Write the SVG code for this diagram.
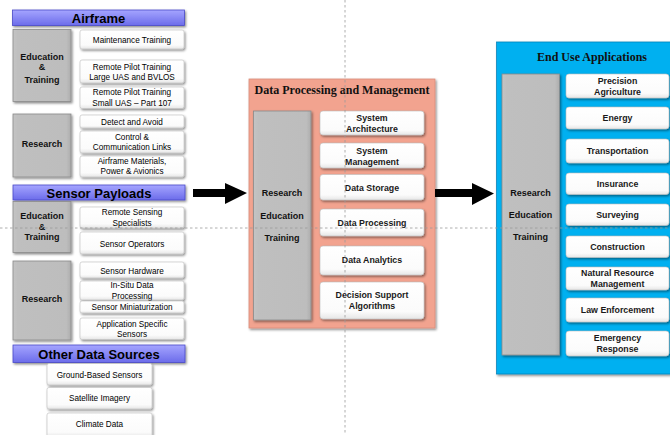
<svg xmlns="http://www.w3.org/2000/svg" width="670" height="435" viewBox="0 0 670 435">
<style>
.hdr{fill:url(#hg);stroke:#4a4ac8;stroke-width:0.8}
.hdt{font-family:"Liberation Sans",Arial,sans-serif;font-weight:bold;font-size:13px;fill:#000;text-anchor:middle}
.gray{fill:url(#gg);stroke:#8a8a8a;stroke-width:0.8}
.gt{font-family:"Liberation Sans",Arial,sans-serif;font-weight:bold;font-size:9px;fill:#111;text-anchor:middle}
.wb{fill:url(#wg);stroke:#bdbdbd;stroke-width:0.6}
.lt{font-family:"Liberation Sans",Arial,sans-serif;font-size:8.2px;fill:#000;text-anchor:middle}
.mt{font-family:"Liberation Sans",Arial,sans-serif;font-weight:bold;font-size:8.8px;fill:#1a1a1a;text-anchor:middle}
.ttl{font-family:"Liberation Serif","Times New Roman",serif;font-weight:bold;font-size:12px;fill:#111;text-anchor:middle}
.guide{stroke:#9a9a9a;stroke-width:0.8;stroke-dasharray:2.5 2.5;fill:none}
.sh{filter:url(#ds)}
</style>
<defs>
<linearGradient id="hg" x1="0" y1="0" x2="0" y2="1"><stop offset="0" stop-color="#a5a5ff"/><stop offset="1" stop-color="#6c6cea"/></linearGradient>
<linearGradient id="gg" x1="0" y1="0" x2="1" y2="0"><stop offset="0" stop-color="#c4c4c4"/><stop offset="0.08" stop-color="#bfbfbf"/><stop offset="0.92" stop-color="#bdbdbd"/><stop offset="1" stop-color="#adadad"/></linearGradient>
<linearGradient id="wg" x1="0" y1="0" x2="0" y2="1"><stop offset="0" stop-color="#ffffff"/><stop offset="0.8" stop-color="#fbfbfb"/><stop offset="1" stop-color="#e6e6e6"/></linearGradient>
<filter id="ds" x="-10%" y="-20%" width="130%" height="150%"><feDropShadow dx="1.2" dy="1.5" stdDeviation="0.9" flood-color="#000" flood-opacity="0.45"/></filter>
</defs>

<!-- Airframe -->
<g id="airframe">
<rect class="hdr sh" x="12.5" y="10" width="172" height="15.5"/>
<text class="hdt" x="98.5" y="23" font-size="15">Airframe</text>
</g>
<g id="af-edu">
<rect class="gray sh" x="13" y="29.5" width="58" height="72"/>
<text class="gt" x="42" y="60">Education</text>
<text class="gt" x="42" y="70">&amp;</text>
<text class="gt" x="42" y="83">Training</text>
</g>
<g id="af-maint"><rect class="wb sh" x="80" y="30" width="104" height="19" rx="2"/><text class="lt" x="132" y="42.8">Maintenance Training</text></g>
<g id="af-rpl"><rect class="wb sh" x="80" y="60" width="104" height="23" rx="2"/><text class="lt" x="132" y="69.8">Remote Pilot Training</text><text class="lt" x="132" y="80.3">Large UAS and BVLOS</text></g>
<g id="af-rps"><rect class="wb sh" x="80" y="87" width="104" height="21.5" rx="2"/><text class="lt" x="132" y="95">Remote Pilot Training</text><text class="lt" x="132" y="105.5">Small UAS – Part 107</text></g>
<g id="af-res">
<rect class="gray sh" x="13" y="114" width="58" height="63"/>
<text class="gt" x="42" y="147">Research</text>
</g>
<g id="af-daa"><rect class="wb sh" x="80" y="115" width="104" height="13" rx="2"/><text class="lt" x="132" y="124.8">Detect and Avoid</text></g>
<g id="af-ccl"><rect class="wb sh" x="80" y="131" width="104" height="22" rx="2"/><text class="lt" x="132" y="139.8">Control &amp;</text><text class="lt" x="132" y="150">Communication Links</text></g>
<g id="af-amp"><rect class="wb sh" x="80" y="156" width="104" height="21" rx="2"/><text class="lt" x="132" y="164">Airframe Materials,</text><text class="lt" x="132" y="174">Power &amp; Avionics</text></g>

<!-- Sensor Payloads -->
<g id="sensor-payloads">
<rect class="hdr sh" x="13" y="185" width="172" height="15"/>
<text class="hdt" x="99" y="197.5" font-size="14">Sensor Payloads</text>
</g>
<g id="sp-edu">
<rect class="gray sh" x="13" y="201.5" width="58" height="51"/>
<text class="gt" x="42" y="219">Education</text>
<text class="gt" x="42" y="230">&amp;</text>
<text class="gt" x="42" y="240">Training</text>
</g>
<g id="sp-rss"><rect class="wb sh" x="80" y="207" width="104" height="21" rx="2"/><text class="lt" x="132" y="215">Remote Sensing</text><text class="lt" x="132" y="226">Specialists</text></g>
<g id="sp-so"><rect class="wb sh" x="80" y="232" width="104" height="22" rx="2"/><text class="lt" x="132" y="246.8">Sensor Operators</text></g>
<g id="sp-res">
<rect class="gray sh" x="13" y="261" width="58" height="79"/>
<text class="gt" x="42" y="302">Research</text>
</g>
<g id="sp-hw"><rect class="wb sh" x="80" y="262" width="104" height="16" rx="2"/><text class="lt" x="132" y="273.8">Sensor Hardware</text></g>
<g id="sp-isdp"><rect class="wb sh" x="80" y="281" width="104" height="19" rx="2"/><text class="lt" x="132" y="288">In-Situ Data</text><text class="lt" x="132" y="299">Processing</text></g>
<g id="sp-min"><rect class="wb sh" x="80" y="301" width="104" height="12" rx="2"/><text class="lt" x="132" y="310">Sensor Miniaturization</text></g>
<g id="sp-app"><rect class="wb sh" x="80" y="318" width="104" height="21.5" rx="2"/><text class="lt" x="132" y="327">Application Specific</text><text class="lt" x="132" y="337">Sensors</text></g>

<!-- Other Data Sources -->
<g id="other-data-sources">
<rect class="hdr sh" x="13" y="345" width="172" height="17.5"/>
<text class="hdt" x="99" y="359" font-size="14">Other Data Sources</text>
</g>
<g id="ods-gbs"><rect class="wb sh" x="47" y="363.5" width="105" height="21.5" rx="2"/><text class="lt" x="99.5" y="377.8">Ground-Based Sensors</text></g>
<g id="ods-sat"><rect class="wb sh" x="47" y="387.5" width="105" height="21.5" rx="2"/><text class="lt" x="99.5" y="401">Satellite Imagery</text></g>
<g id="ods-cd"><rect class="wb sh" x="47" y="413" width="105" height="24" rx="2"/><text class="lt" x="99.5" y="427">Climate Data</text></g>

<!-- Data Processing and Management -->
<g id="data-processing">
<rect class="sh" x="249" y="79" width="186" height="249" fill="#f2a38f" stroke="#d98d7b" stroke-width="0.8"/>
<text class="ttl" x="342" y="94">Data Processing and Management</text>
</g>
<g id="dp-ret">
<rect class="gray sh" x="253.5" y="111" width="57.5" height="209"/>
<text class="gt" x="282" y="196">Research</text>
<text class="gt" x="282" y="219">Education</text>
<text class="gt" x="282" y="240.5">Training</text>
</g>
<g id="dp-sa"><rect class="wb sh" x="320" y="111" width="104" height="24" rx="3"/><text class="mt" x="372" y="121">System</text><text class="mt" x="372" y="132">Architecture</text></g>
<g id="dp-sm"><rect class="wb sh" x="320" y="143" width="104" height="25" rx="3"/><text class="mt" x="372" y="154">System</text><text class="mt" x="372" y="164.5">Management</text></g>
<g id="dp-ds"><rect class="wb sh" x="320" y="174.5" width="104" height="25.5" rx="3"/><text class="mt" x="372" y="191">Data Storage</text></g>
<g id="dp-dpr"><rect class="wb sh" x="320" y="209" width="104" height="27" rx="3"/><text class="mt" x="372" y="226">Data Processing</text></g>
<g id="dp-da"><rect class="wb sh" x="320" y="246" width="104" height="29" rx="3"/><text class="mt" x="372" y="263">Data Analytics</text></g>
<g id="dp-dsa"><rect class="wb sh" x="320" y="282" width="104" height="37" rx="3"/><text class="mt" x="372" y="298">Decision Support</text><text class="mt" x="372" y="309">Algorithms</text></g>

<!-- End Use Applications -->
<g id="end-use">
<rect class="sh" x="496.5" y="42" width="176" height="332" fill="#00b0f0" stroke="#0a86bb" stroke-width="0.8"/>
<text class="ttl" x="592" y="61">End Use Applications</text>
</g>
<g id="eu-ret">
<rect class="gray sh" x="502" y="74" width="57.5" height="281"/>
<text class="gt" x="530.5" y="195.5">Research</text>
<text class="gt" x="530.5" y="218">Education</text>
<text class="gt" x="530.5" y="240">Training</text>
</g>
<g id="eu-pa"><rect class="wb sh" x="566" y="74" width="103" height="24" rx="3"/><text class="mt" x="617.5" y="84">Precision</text><text class="mt" x="617.5" y="95">Agriculture</text></g>
<g id="eu-en"><rect class="wb sh" x="566" y="107" width="103" height="22" rx="3"/><text class="mt" x="617.5" y="121">Energy</text></g>
<g id="eu-tr"><rect class="wb sh" x="566" y="139" width="103" height="24" rx="3"/><text class="mt" x="617.5" y="154">Transportation</text></g>
<g id="eu-in"><rect class="wb sh" x="566" y="173" width="103" height="21.5" rx="3"/><text class="mt" x="617.5" y="187">Insurance</text></g>
<g id="eu-su"><rect class="wb sh" x="566" y="204" width="103" height="21.5" rx="3"/><text class="mt" x="617.5" y="218">Surveying</text></g>
<g id="eu-co"><rect class="wb sh" x="566" y="236" width="103" height="21.5" rx="3"/><text class="mt" x="617.5" y="250">Construction</text></g>
<g id="eu-nr"><rect class="wb sh" x="566" y="267" width="103" height="23" rx="3"/><text class="mt" x="617.5" y="276">Natural Resource</text><text class="mt" x="617.5" y="287">Management</text></g>
<g id="eu-le"><rect class="wb sh" x="566" y="298" width="103" height="24" rx="3"/><text class="mt" x="617.5" y="313">Law Enforcement</text></g>
<g id="eu-er"><rect class="wb sh" x="566" y="331" width="103" height="25" rx="3"/><text class="mt" x="617.5" y="341">Emergency</text><text class="mt" x="617.5" y="352">Response</text></g>

<!-- Connectors -->
<g id="connectors" fill="#000">
<polygon points="193,189 225,189 225,183 247,193 225,204 225,197 193,197"/>
<polygon points="435,189 472,189 472,183 494,193.5 472,205 472,197 435,197"/>
</g>

<!-- Guides -->
<g id="guides">
<line class="guide" x1="345" y1="0" x2="345" y2="435"/>
<line class="guide" x1="0" y1="228" x2="670" y2="228"/>
</g>
</svg>
